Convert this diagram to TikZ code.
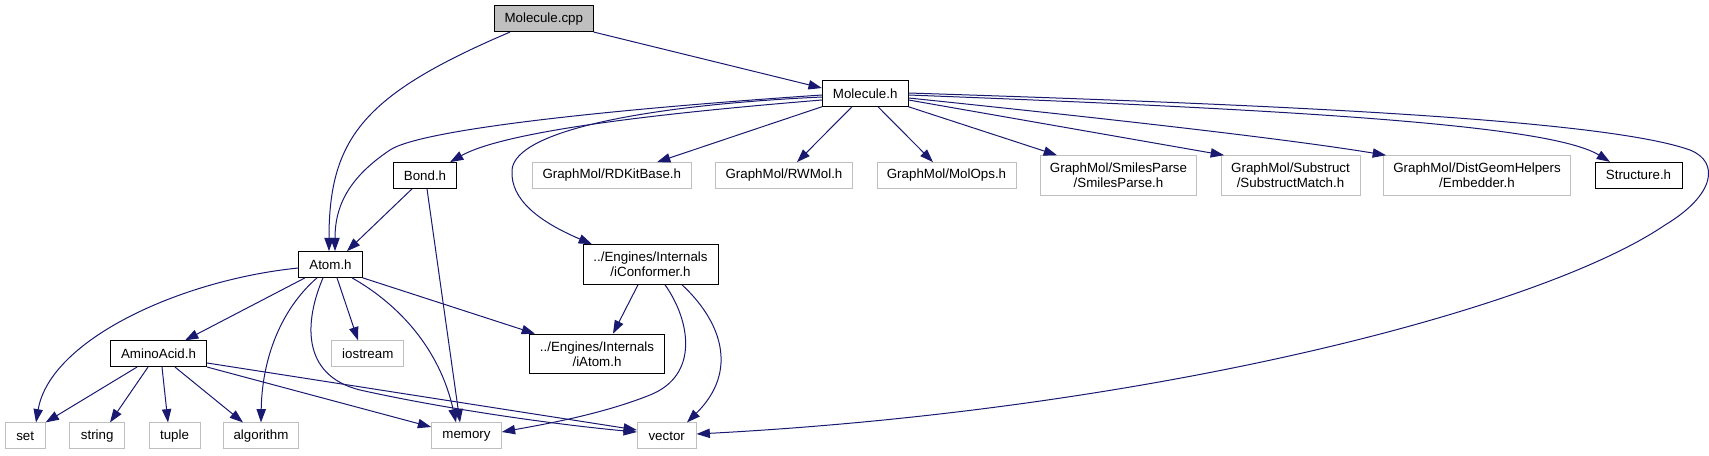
\documentclass[tikz,border=0pt]{standalone}
\usepackage{fontspec}
\setmainfont{Liberation Sans}
\usetikzlibrary{arrows.meta}
\definecolor{edgeblue}{HTML}{191970}
\definecolor{greyborder}{HTML}{BFBFBF}
\begin{document}
\begin{tikzpicture}[x=0.75pt,y=-0.75pt,
  base/.style={rectangle, inner sep=0pt, font=\fontsize{10pt}{11.25pt}\selectfont, align=center, line width=0.75pt, minimum height=19.3pt},
  mainbox/.style={base, draw=black, fill=white},
  srcbox/.style={base, draw=black, fill=greyborder},
  extbox/.style={base, draw=greyborder, fill=white},
  tall/.style={minimum height=29.7pt},
  dep/.style={draw=edgeblue, line width=0.75pt, -{Triangle[length=10pt,width=7pt]}}]
\useasboundingbox (0,0) rectangle (1709,455);

% nodes
\node[srcbox, minimum width=74.25pt] (mcpp) at (543.8,18.7) {Molecule.cpp};
\node[mainbox, minimum width=64.3pt] (mh) at (865.2,93.4) {Molecule.h};
\node[mainbox, minimum width=47.55pt] (bond) at (425,175.5) {Bond.h};
\node[extbox, minimum width=119.25pt] (rdkit) at (611.8,175.5) {GraphMol/RDKitBase.h};
\node[extbox, minimum width=103pt] (rwmol) at (784,175.5) {GraphMol/RWMol.h};
\node[extbox, minimum width=104.25pt] (molops) at (946.5,175.5) {GraphMol/MolOps.h};
\node[extbox, tall, minimum width=117.3pt] (smiles) at (1118.5,175.5) {GraphMol/SmilesParse\\/SmilesParse.h};
\node[extbox, tall, minimum width=104.25pt] (subst) at (1290.5,175.5) {GraphMol/Substruct\\/SubstructMatch.h};
\node[extbox, tall, minimum width=140.5pt] (distgeom) at (1477,175.5) {GraphMol/DistGeomHelpers\\/Embedder.h};
\node[mainbox, minimum width=65.25pt] (structure) at (1638.5,175.2) {Structure.h};
\node[mainbox, minimum width=47.7pt] (atom) at (330.5,264.5) {Atom.h};
\node[mainbox, tall, minimum width=101.25pt] (iconf) at (650.5,264.5) {../Engines/Internals\\/iConformer.h};
\node[mainbox, minimum width=72.3pt] (amino) at (158.5,353.7) {AminoAcid.h};
\node[extbox, minimum width=54.2pt] (iostream) at (367.8,353.7) {iostream};
\node[mainbox, tall, minimum width=101pt] (iatom) at (597,354) {../Engines/Internals\\/iAtom.h};
\node[extbox, minimum width=29.8pt] (set) at (25.2,435.8) {set};
\node[extbox, minimum width=41.25pt] (string) at (97.2,435.8) {string};
\node[extbox, minimum width=38.25pt] (tuple) at (174.5,435.8) {tuple};
\node[extbox, minimum width=56pt] (algorithm) at (261,435.8) {algorithm};
\node[extbox, minimum width=52.2pt] (memory) at (466.5,435.8) {memory};
\node[extbox, minimum width=44pt] (vector) at (666.7,435.8) {vector};

% edges from Molecule.cpp
\draw[dep] (mcpp.south east) -- (mh.west |- 0,88);
\draw[dep] (mcpp.south -| 510,0) .. controls (365,94) and (329,137) .. (atom.north -| 329,0);

% edges from Molecule.h
\draw[dep] (mh.west |- 0,95) .. controls (600,110) and (420,130) .. (390,150) .. controls (345,180) and (335,210) .. (atom.north -| 335,0);
\draw[dep] (mh.west |- 0,100) .. controls (700,110) and (510,128) .. (bond.north -| 450,0);
\draw[dep] (mh.west |- 0,97) .. controls (650,105) and (515,130) .. (512,170) .. controls (510,200) and (540,222) .. (iconf.north -| 592,0);
\draw[dep] (mh.south west) -- (rdkit.north -| 657,0);
\draw[dep] (mh.south -| 852,0) -- (rwmol.north -| 797,0);
\draw[dep] (mh.south -| 878,0) -- (molops.north -| 933,0);
\draw[dep] (mh.south east) -- (smiles.north -| 1057,0);
\draw[dep] (mh.east |- 0,100) -- (subst.north -| 1224,0);
\draw[dep] (mh.east |- 0,98) .. controls (1150,123) and (1300,141) .. (distgeom.north -| 1386,0);
\draw[dep] (mh.east |- 0,95) .. controls (1300,110) and (1550,125) .. (structure.north -| 1610,0);
\draw[dep] (mh.east |- 0,93) .. controls (1250,104) and (1600,118) .. (1690,150) .. controls (1720,162) and (1715,195) .. (1665,225) .. controls (1540,310) and (1150,410) .. (vector.east |- 0,434);

% edges from Bond.h
\draw[dep] (bond.south -| 412,0) -- (atom.north -| 347,0);
\draw[dep] (bond.south -| 427,0) -- (memory.north -| 460,0);

% edges from Atom.h
\draw[dep] (atom.west |- 0,268) .. controls (180,280) and (50,340) .. (set.north -| 36,0);
\draw[dep] (atom.south -| 305,0) -- (amino.north -| 185,0);
\draw[dep] (atom.south -| 317,0) .. controls (280,310) and (262,360) .. (algorithm.north -| 261,0);
\draw[dep] (atom.south -| 323,0) .. controls (305,320) and (300,375) .. (360,390) .. controls (450,410) and (560,425) .. (vector.west |- 0,432);
\draw[dep] (atom.south -| 337,0) -- (iostream.north -| 358,0);
\draw[dep] (atom.south -| 352,0) .. controls (400,305) and (440,350) .. (memory.north -| 456,0);
\draw[dep] (atom.south east) -- (iatom.north -| 535,0);

% edges from AminoAcid.h
\draw[dep] (amino.south -| 137,0) -- (set.north east);
\draw[dep] (amino.south -| 148,0) -- (string.north -| 110,0);
\draw[dep] (amino.south -| 162,0) -- (tuple.north -| 168,0);
\draw[dep] (amino.south -| 175,0) -- (algorithm.north -| 243,0);
\draw[dep] (amino.south east) -- (memory.west |- 0,427);
\draw[dep] (amino.east |- 0,363) -- (vector.west |- 0,430);

% edges from iConformer.h
\draw[dep] (iconf.south -| 638,0) -- (iatom.north -| 613,0);
\draw[dep] (iconf.south -| 665,0) .. controls (690,320) and (700,375) .. (650,395) .. controls (600,415) and (540,425) .. (memory.east |- 0,432);
\draw[dep] (iconf.south -| 682,0) .. controls (720,320) and (740,370) .. (vector.north -| 687,0);
\end{tikzpicture}
\end{document}
